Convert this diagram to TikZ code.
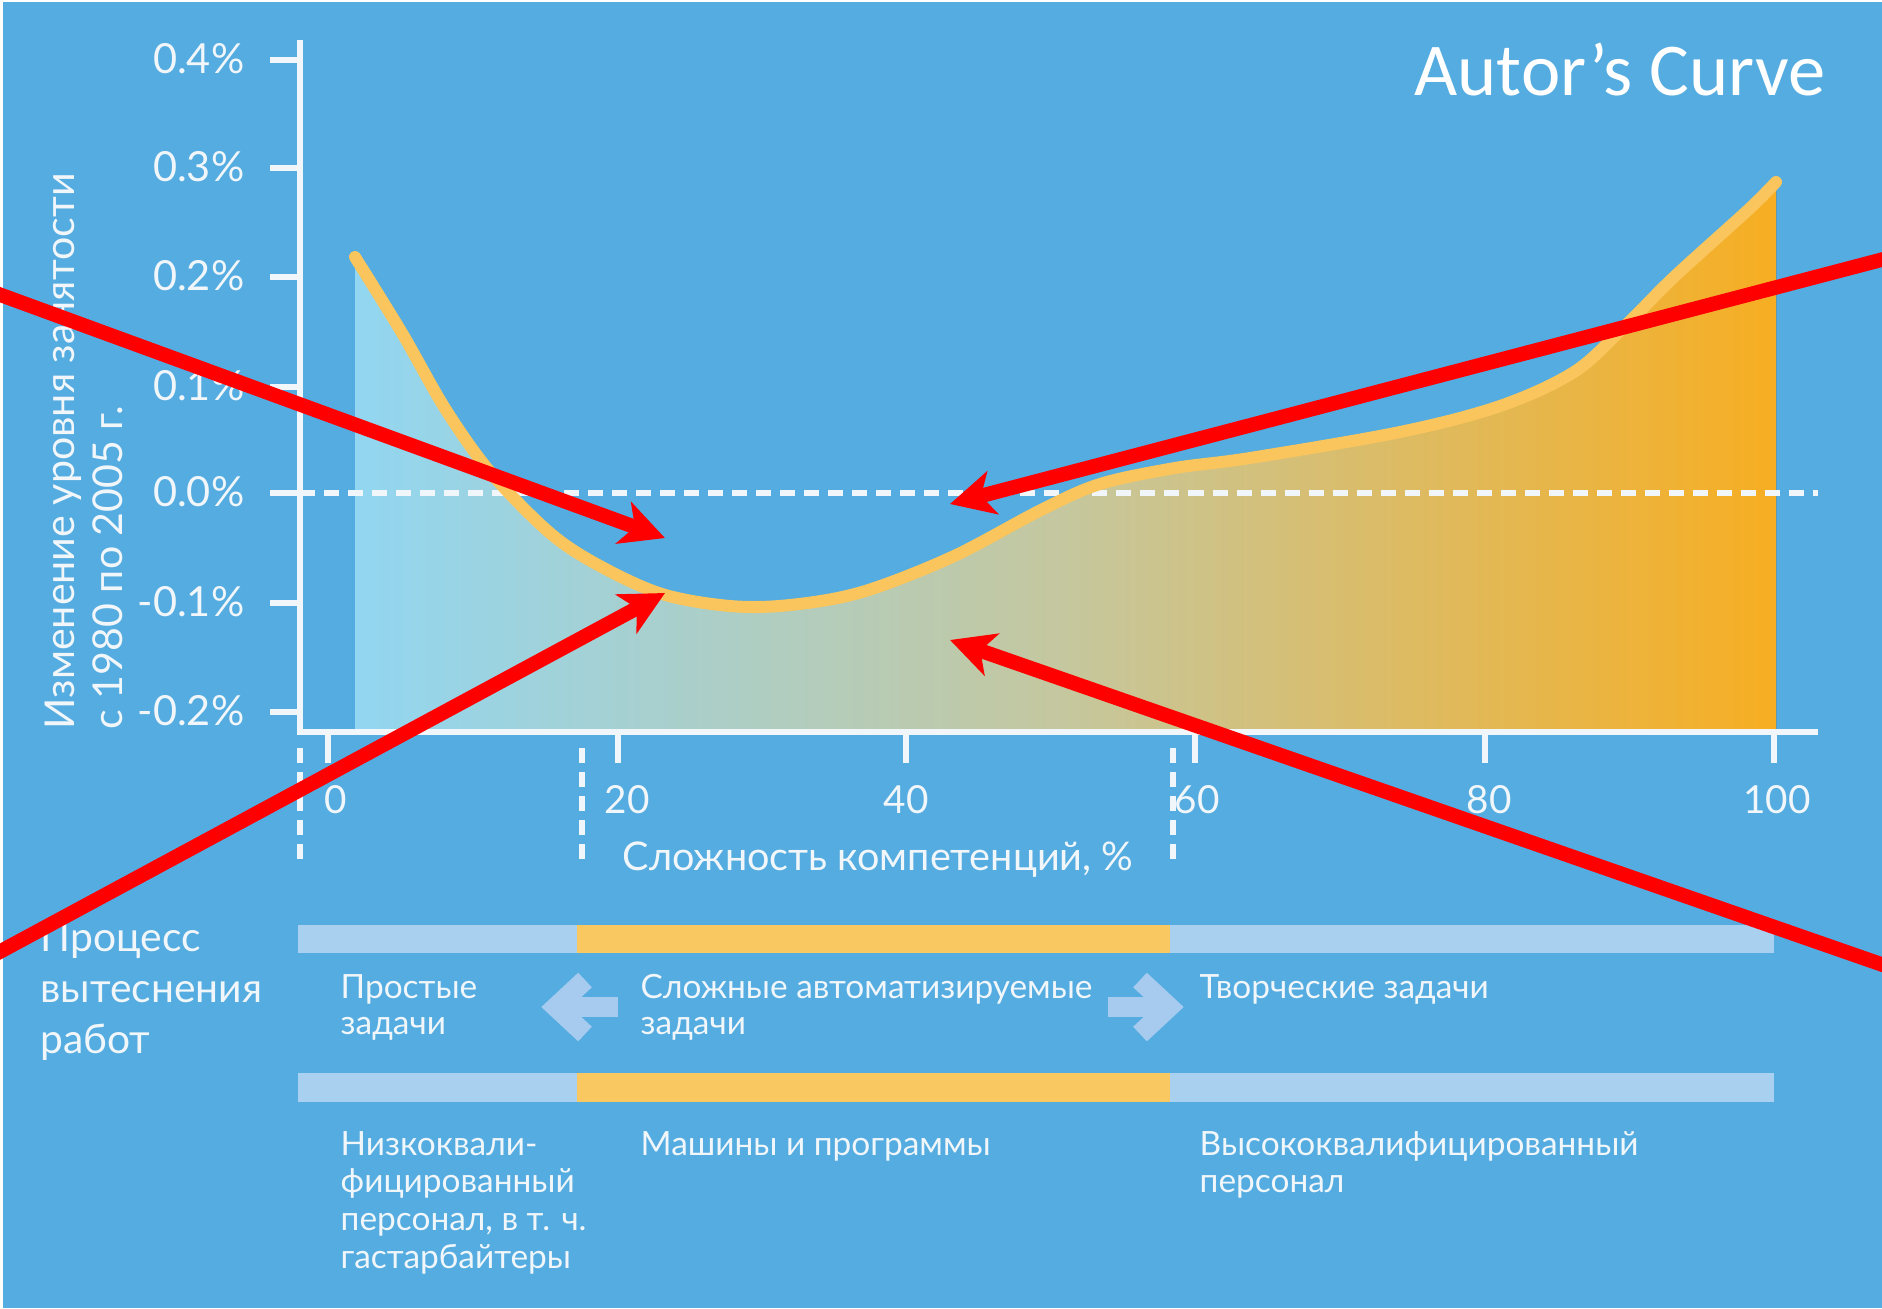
\documentclass[tikz,border=0pt]{standalone}
\usepackage{fontspec}
\setmainfont{Lato}
\newfontfamily\calibrifont{Carlito}
\usetikzlibrary{arrows.meta}
\definecolor{bg}{RGB}{84,172,224}
\definecolor{curveY}{RGB}{250,197,92}
\definecolor{fillL}{RGB}{146,214,241}
\definecolor{fillM}{RGB}{197,199,158}
\definecolor{fillR}{RGB}{247,174,34}
\definecolor{barBlue}{RGB}{170,208,240}
\definecolor{barOr}{RGB}{249,200,96}
\definecolor{chev}{RGB}{166,203,238}
\definecolor{txt}{RGB}{240,246,250}
\newcommand\tblock[2]{\parbox[t]{#1}{\lineskiplimit=-30pt\raggedright #2}}
\tikzset{
  axisline/.style={draw=txt, line width=0.055cm},
  dashline/.style={draw=txt, line width=0.055cm, dash pattern=on 0.15cm off 0.09cm},
  ylab/.style={text=txt, font=\fontsize{11.8}{13}\selectfont, anchor=base east, inner sep=0pt},
  xlab/.style={text=txt, font=\fontsize{11}{13}\selectfont, anchor=base, inner sep=0pt},
  ytitle/.style={text=txt, font=\fontsize{11.7}{14}\selectfont, anchor=base west, inner sep=0pt, rotate=90},
  bodytext/.style={text=txt, anchor=base west, inner sep=0pt, font=\fontsize{9.5}{10.45}\selectfont},
  bodytextb/.style={text=txt, anchor=base west, inner sep=0pt, font=\fontsize{9.5}{10.75}\selectfont},
  bigtext/.style={text=txt, anchor=base west, inner sep=0pt, font=\fontsize{11.6}{14.5}\selectfont},
  chevron/.style={draw=chev, line width=0.2cm, miter limit=10},
  redarrow/.style={draw=red, line width=0.145cm, -{Stealth[length=0.44cm,width=0.44cm,inset=0.12cm]}},
  curveline/.style={draw=curveY, line width=0.12cm, line cap=round, line join=round}
}
\begin{document}
\begin{tikzpicture}[x=0.01cm,y=-0.01cm]
\useasboundingbox (0,0) rectangle (1882,1308);
\clip (0,0) rectangle (1882,1308);
\fill[bg] (0,0) rectangle (1882,1308);
\fill[white] (0,0) rectangle (1882,2);
\fill[white] (0,0) rectangle (3,1308);

% area under curve
\fill[left color=fillL,right color=fillR,middle color=fillM] (355,732) -- plot[smooth,tension=0.55] coordinates {(355,257) (402,333) (446,410) (491,473) (550,533) (600,566) (662,594) (730,606) (790,605) (862,592) (952,557) (1041,510) (1100,484) (1175,468) (1250,458) (1400,432) (1500,406) (1574,372) (1624,327) (1674,277) (1748,210) (1776,182)} -- (1776,732) -- cycle;

% axes
\draw[axisline] (300,40) -- (300,735);
\draw[axisline] (297,732) -- (1818,732);
\foreach \yy/\lab [count=\i] in {60/0.4\%,168/0.3\%,277/0.2\%,387/0.1\%,493/0.0\%,603/-0.1\%,712/-0.2\%}{
  \draw[axisline] (270,\yy) -- (300,\yy);
  \node[ylab] (yl\i) at (245,\yy+13) {\lab};
}
\foreach \xx/\lx/\lab [count=\i] in {328/336/0,618/627/20,906/906/40,1195/1197/60,1485/1489/80,1774/1777/100}{
  \draw[axisline] (\xx,732) -- (\xx,763);
  \node[xlab] (xl\i) at (\lx,813) {\lab};
}
% dashed lines
\draw[dashline] (300,493) -- (1818,493);
\draw[dashline] (300,748) -- (300,866);
\draw[dashline] (582,748) -- (582,866);
\draw[dashline] (1173,748) -- (1173,866);

% curve
\draw[curveline] plot[smooth,tension=0.55] coordinates {(355,257) (402,333) (446,410) (491,473) (550,533) (600,566) (662,594) (730,606) (790,605) (862,592) (952,557) (1041,510) (1100,484) (1175,468) (1250,458) (1400,432) (1500,406) (1574,372) (1624,327) (1674,277) (1748,210) (1776,182)};

% axis titles
\node[ytitle] (yt1) at (74,730) {Изменение уровня занятости};
\node[ytitle] (yt2) at (122,730) {с 1980 по 2005 г.};
\node[text=txt, font=\fontsize{11.25}{14}\selectfont, anchor=base, inner sep=0pt] (xt) at (878,870) {Сложность компетенций, \%};

% title
\node[text=white, font=\calibrifont\fontsize{21.2}{24}\selectfont, anchor=base east, inner sep=0pt] (title) at (1826,95) {Autor’s Curve};

% bars
\fill[barBlue] (298,925) rectangle (1774,953);
\fill[barOr] (577,925) rectangle (1170,953);
\fill[barBlue] (298,1073) rectangle (1774,1102);
\fill[barOr] (577,1073) rectangle (1170,1102);

% chevron arrows
\draw[chevron] (585,980) -- (556,1007) -- (585,1034);
\draw[chevron] (556,1007) -- (618,1007);
\draw[chevron] (1140,980) -- (1169,1007) -- (1140,1034);
\draw[chevron] (1108,1007) -- (1169,1007);

% texts
\node[bigtext] (proc) at (40,951) {\tblock{5cm}{Процесс\\вытеснения\\работ}};
\node[bodytext] (simple) at (340,998) {\tblock{5cm}{Простые\\задачи}};
\node[bodytext] (complex) at (640,998) {\tblock{8cm}{Сложные автоматизируемые\\задачи}};
\node[bodytext] (creative) at (1199,998) {\tblock{8cm}{Творческие задачи}};
\node[bodytextb] (low) at (340,1155) {\tblock{5cm}{Низкоквали-\\фицированный\\персонал, в т. ч.\\гастарбайтеры}};
\node[bodytextb] (mach) at (640,1155) {\tblock{8cm}{Машины и программы}};
\node[bodytextb] (high) at (1199,1155) {\tblock{8cm}{Высококвалифицированный\\персонал}};

% red arrows
\coordinate (t1) at (-10,291);
\coordinate (h1) at (665,538);
\coordinate (t2) at (-10,957);
\coordinate (h2) at (665,593);
\coordinate (t3) at (1892,257);
\coordinate (h3) at (950,504);
\coordinate (t4) at (1892,968);
\coordinate (h4) at (950,640);
\draw[redarrow] (t1) -- (h1);
\draw[redarrow] (t2) -- (h2);
\draw[redarrow] (t3) -- (h3);
\draw[redarrow] (t4) -- (h4);
\end{tikzpicture}
\end{document}
